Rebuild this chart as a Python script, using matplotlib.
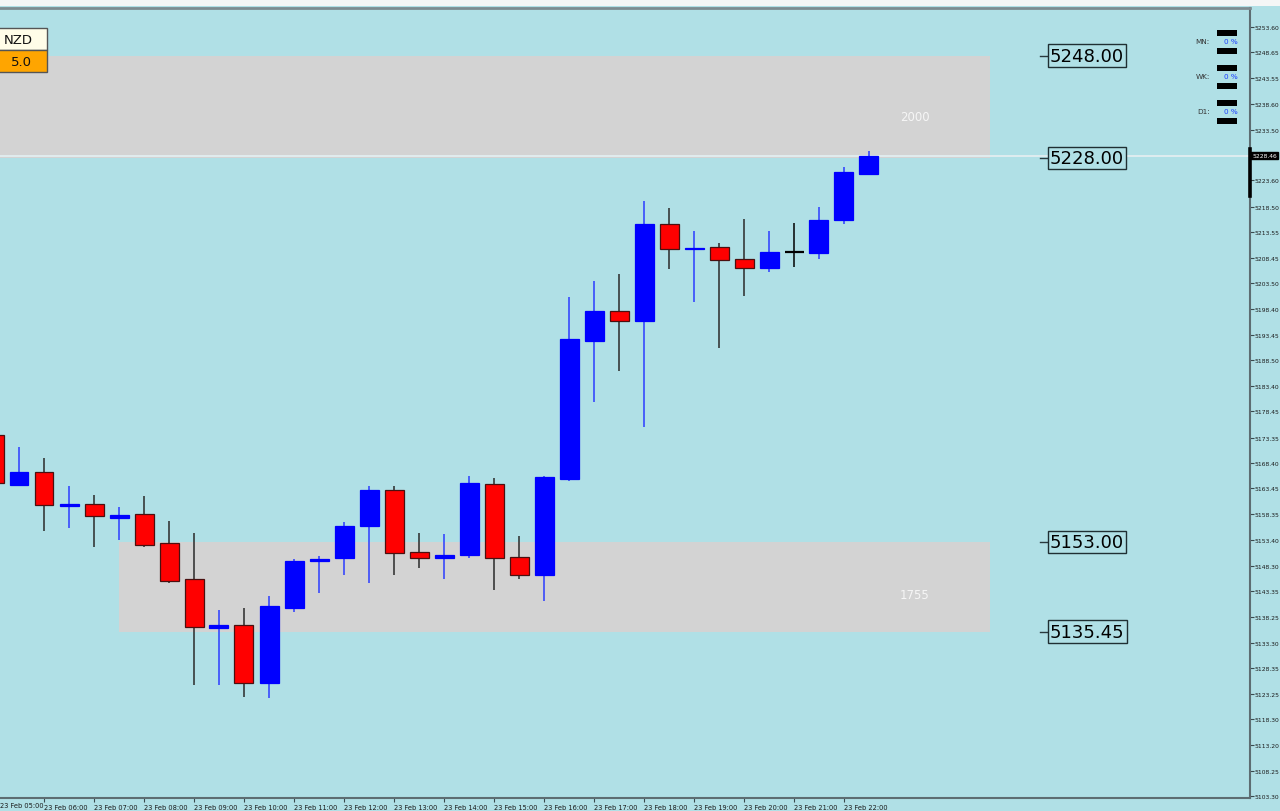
import matplotlib
matplotlib.use('Agg')
import matplotlib.pyplot as plt
from matplotlib.patches import Rectangle
from matplotlib.transforms import blended_transform_factory

# ---------------- data ----------------
# 30-minute candles, 23 Feb 05:00 .. 22:30
opens = [5173.9, 5164.1, 5166.6, 5160.0, 5160.4, 5157.7, 5158.4, 5152.7, 5145.7, 5136.2,
         5136.7, 5125.4, 5140.0, 5149.2, 5149.8, 5156.0, 5163.2, 5150.9, 5149.8, 5150.4,
         5164.3, 5150.1, 5146.5, 5165.3, 5192.2, 5198.0, 5196.1, 5215.1, 5210.3, 5210.6,
         5208.3, 5206.4, 5209.6, 5209.4, 5215.8, 5224.9]
highs = [5174.5, 5171.5, 5169.4, 5163.9, 5162.1, 5159.8, 5162.0, 5157.0, 5154.7, 5139.7,
         5140.0, 5142.4, 5149.6, 5150.3, 5156.9, 5163.8, 5163.8, 5154.8, 5154.6, 5165.8,
         5165.5, 5154.2, 5165.9, 5200.8, 5203.9, 5205.3, 5219.5, 5218.2, 5213.7, 5211.4,
         5216.1, 5213.7, 5215.2, 5218.4, 5226.2, 5229.4]
lows = [5164.0, 5164.0, 5155.1, 5155.7, 5152.0, 5153.3, 5152.0, 5144.9, 5124.9, 5124.9,
        5122.6, 5122.4, 5139.2, 5143.0, 5146.5, 5144.9, 5146.5, 5147.8, 5145.7, 5149.8,
        5143.6, 5145.7, 5141.4, 5164.9, 5180.4, 5186.4, 5175.4, 5206.3, 5199.8, 5190.8,
        5201.1, 5205.8, 5206.6, 5208.3, 5215.0, 5224.7]
closes = [5164.5, 5166.6, 5160.2, 5160.4, 5158.0, 5158.3, 5152.4, 5145.4, 5136.3, 5136.8,
          5125.4, 5140.5, 5149.3, 5149.7, 5156.1, 5163.2, 5150.7, 5149.8, 5150.5, 5164.4,
          5149.8, 5146.5, 5165.6, 5192.6, 5198.0, 5196.2, 5215.0, 5210.2, 5210.5, 5208.1,
          5206.4, 5209.6, 5209.6, 5215.9, 5225.3, 5228.46]
current_price = 5228.46

hour_labels = ['23 Feb 05:00', '23 Feb 06:00', '23 Feb 07:00', '23 Feb 08:00', '23 Feb 09:00',
               '23 Feb 10:00', '23 Feb 11:00', '23 Feb 12:00', '23 Feb 13:00', '23 Feb 14:00',
               '23 Feb 15:00', '23 Feb 16:00', '23 Feb 17:00', '23 Feb 18:00', '23 Feb 19:00',
               '23 Feb 20:00', '23 Feb 21:00', '23 Feb 22:00']

price_ticks = ['5253.60', '5248.65', '5243.55', '5238.60', '5233.50', '5223.60', '5218.50',
               '5213.55', '5208.45', '5203.50', '5198.40', '5193.45', '5188.50', '5183.40',
               '5178.45', '5173.35', '5168.40', '5163.45', '5158.35', '5153.40', '5148.30',
               '5143.35', '5138.25', '5133.30', '5128.35', '5123.25', '5118.30', '5113.20',
               '5108.25', '5103.30']

zone_tops = [5248.00, 5153.00]
zone_bottoms = [5228.00, 5135.45]
zone_texts = ['2000', '1755']
zone_start_bar = [-5, 5]

level_prices = [5248.00, 5228.00, 5153.00, 5135.45]
level_texts = ['5248.00', '5228.00', '5153.00', '5135.45']

panel_names = ['MN:', 'WK:', 'D1:']
panel_values = ['0 %', '0 %', '0 %']

# ---------------- layout ----------------
W, H = 1280, 812
BG = '#b0e0e6'
XLIM = (0.24, 50.24)
YLIM = (5102.91, 5257.31)
fig = plt.figure(figsize=(12.8, 8.12), dpi=100)
fig.patch.set_facecolor(BG)

def fx(x):
    return x / W

def fy(y):
    return 1 - y / H

ax = fig.add_axes([0, fy(799), fx(1250), fy(9) - fy(799)])
ax.set_facecolor(BG)

# white band above the chart
fig.add_artist(Rectangle((0, fy(7)), 1, 1 - fy(7), transform=fig.transFigure,
                         fc='#f4f6f6', ec='none', zorder=0))

ax.spines['left'].set_visible(False)
ax.spines['top'].set_color('#7d8c91')
ax.spines['top'].set_linewidth(2)
ax.spines['right'].set_color('#5d6d72')
ax.spines['right'].set_linewidth(1.5)
ax.spines['bottom'].set_color('#5d6d72')
ax.spines['bottom'].set_linewidth(1.5)

# zones
ZONE_END = 39.84
for top, bot, txt, st in zip(zone_tops, zone_bottoms, zone_texts, zone_start_bar):
    ax.add_patch(Rectangle((st, bot), ZONE_END - st, top - bot, fc='#d3d3d3', ec='none', zorder=1))
    ax.text(36.84, bot + 0.41 * (top - bot), txt, color='#f6f6f6', fontsize=8.5,
            ha='center', va='center', zorder=2)

# current price line
ax.axhline(current_price, color='#e2eef0', lw=1.3, zorder=1.5)

# candles
BW = 0.76
for i, (o, h, l, c) in enumerate(zip(opens, highs, lows, closes)):
    if c > o:
        body, wick, edge = '#0000ff', '#2b3cff', '#0000ff'
    elif c < o:
        body, wick, edge = '#ff0000', '#2a2a2a', '#4a1010'
    else:
        body, wick, edge = '#000000', '#000000', '#000000'
    ax.vlines(i, l, h, color=wick, lw=1.1, zorder=3)
    if c == o:
        ax.hlines(c, i - BW / 2, i + BW / 2, color=body, lw=1.6, zorder=4)
    else:
        lo = min(o, c)
        ax.add_patch(Rectangle((i - BW / 2, lo), BW, abs(c - o), fc=body, ec=edge,
                               lw=0.9, zorder=4))

# level labels
for p, t in zip(level_prices, level_texts):
    ax.plot([41.84, 42.16], [p, p], color='#2a3a3e', lw=1, zorder=5)
    ax.text(42.24, p, t, fontsize=13, ha='left', va='center', color='#000000', zorder=6,
            bbox=dict(boxstyle='square,pad=0.12', fc=BG, ec='#1f2f33', lw=1))

# x axis (first hour tick sits just left of the visible area)
ax.set_xticks(list(range(2, 2 * len(hour_labels), 2)))
ax.set_xticklabels(hour_labels[1:])
ax.tick_params(axis='x', direction='out', length=3, width=0.8, color='#3a4a4e',
               labelsize=4.8, labelcolor='#1a1a1a', pad=1)
for lab in ax.get_xticklabels():
    lab.set_ha('left')
fig.text(fx(0), fy(806), hour_labels[0], fontsize=4.8, color='#1a1a1a', ha='left', va='center')

# y axis on right
ax.yaxis.tick_right()
ax.set_yticks([float(v) for v in price_ticks])
ax.set_yticklabels(price_ticks)
ax.tick_params(axis='y', direction='out', length=3, width=0.8, color='#3a4a4e',
               labelsize=4.3, labelcolor='#1a1a1a', pad=0.5)

ax.set_xlim(*XLIM)
ax.set_ylim(*YLIM)

tr = blended_transform_factory(ax.transAxes, ax.transData)
ax.text(1.002, current_price, f'{current_price:.2f}', transform=tr, fontsize=4.3,
        color='white', ha='left', va='center', clip_on=False, zorder=10,
        bbox=dict(boxstyle='square,pad=0.2', fc='black', ec='black'))
ax.plot([1.0, 1.0], [5229.8, 5220.5], transform=tr, color='black', lw=2.6,
        clip_on=False, zorder=10)

# NZD boxes
fig.add_artist(Rectangle((fx(-2), fy(51)), fx(49), fy(29) - fy(51), transform=fig.transFigure,
                         fc='#fffde8', ec='#555555', lw=1, zorder=20))
fig.add_artist(Rectangle((fx(-2), fy(73)), fx(49), fy(51) - fy(73), transform=fig.transFigure,
                         fc='#ffa500', ec='#555555', lw=1, zorder=20))
fig.text(fx(18.5), fy(40), 'NZD', fontsize=9.5, ha='center', va='center', color='#111111', zorder=21)
fig.text(fx(21), fy(62), '5.0', fontsize=9.5, ha='center', va='center', color='#111111', zorder=21)

# MN / WK / D1 panel
for j, (nm, val) in enumerate(zip(panel_names, panel_values)):
    yc = 42 + 35 * j
    fig.text(fx(1210), fy(yc), nm, fontsize=5.2, ha='right', va='center', color='#333333')
    fig.text(fx(1238), fy(yc), val, fontsize=5.2, ha='right', va='center', color='#1a3cff')
    for dy in (-11, 7):
        fig.add_artist(Rectangle((fx(1217), fy(yc + dy + 6)), fx(20), fy(yc + dy) - fy(yc + dy + 6),
                                 transform=fig.transFigure, fc='black', ec='none'))

fig.savefig('out.png', dpi=100, facecolor=BG)
